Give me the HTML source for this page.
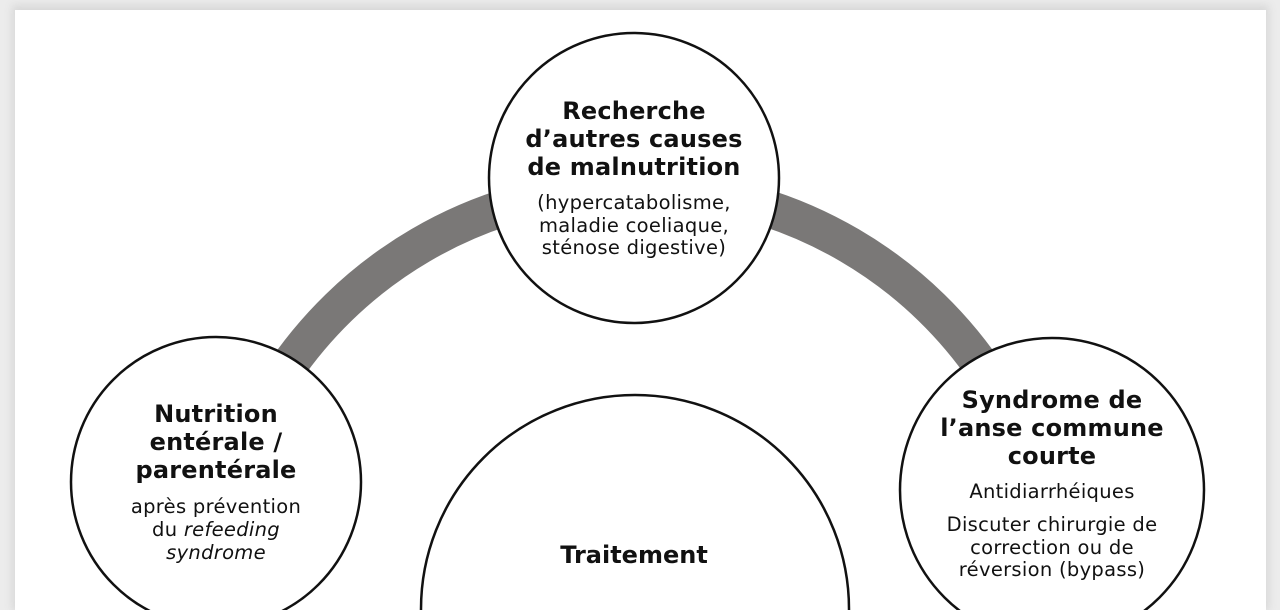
<!DOCTYPE html>
<html><head><meta charset="utf-8"><style>
html,body{margin:0;padding:0;width:1280px;height:610px;overflow:hidden;background:#ececec;}
#pg{position:absolute;left:15px;top:10px;width:1251px;height:600px;background:#fff;box-shadow:0 -2px 8px 3px #d8d8d8;}
svg{position:absolute;left:0;top:0;}
text{font-family:"DejaVu Sans","Liberation Sans",sans-serif;fill:#111;text-anchor:middle;}
.b{font-weight:bold;font-size:24px;letter-spacing:0.2px;}
.n{font-size:19.5px;letter-spacing:0.3px;}
</style></head><body>
<div id="pg"></div>
<svg width="1280" height="610" viewBox="0 0 1280 610">
<path d="M 279 380 A 425 425 0 0 1 991 380" fill="none" stroke="#7a7877" stroke-width="37"/>
<circle cx="634" cy="178" r="145" fill="#fff" stroke="#111" stroke-width="2.5"/>
<circle cx="216" cy="482" r="145" fill="#fff" stroke="#111" stroke-width="2.5"/>
<circle cx="1052" cy="490" r="152" fill="#fff" stroke="#111" stroke-width="2.5"/>
<circle cx="635" cy="609" r="214" fill="#fff" stroke="#111" stroke-width="2.5"/>
<text class="b" x="634" y="119">Recherche</text>
<text class="b" x="634" y="147">d’autres causes</text>
<text class="b" x="634" y="175">de malnutrition</text>
<text class="n" x="634" y="209">(hypercatabolisme,</text>
<text class="n" x="634" y="232">maladie coeliaque,</text>
<text class="n" x="634" y="254">sténose digestive)</text>
<text class="b" x="216" y="422">Nutrition</text>
<text class="b" x="216" y="450">entérale /</text>
<text class="b" x="216" y="478">parentérale</text>
<text class="n" x="216" y="513">après prévention</text>
<text class="n" x="216" y="536">du <tspan font-style="italic">refeeding</tspan></text>
<text class="n" x="216" y="559" font-style="italic">syndrome</text>
<text class="b" x="1052" y="408">Syndrome de</text>
<text class="b" x="1052" y="436">l’anse commune</text>
<text class="b" x="1052" y="464">courte</text>
<text class="n" x="1052" y="498">Antidiarrhéiques</text>
<text class="n" x="1052" y="531">Discuter chirurgie de</text>
<text class="n" x="1052" y="554">correction ou de</text>
<text class="n" x="1052" y="576">réversion (bypass)</text>
<text class="b" x="634" y="563" style="font-size:24px;letter-spacing:0">Traitement</text>
</svg>
</body></html>
